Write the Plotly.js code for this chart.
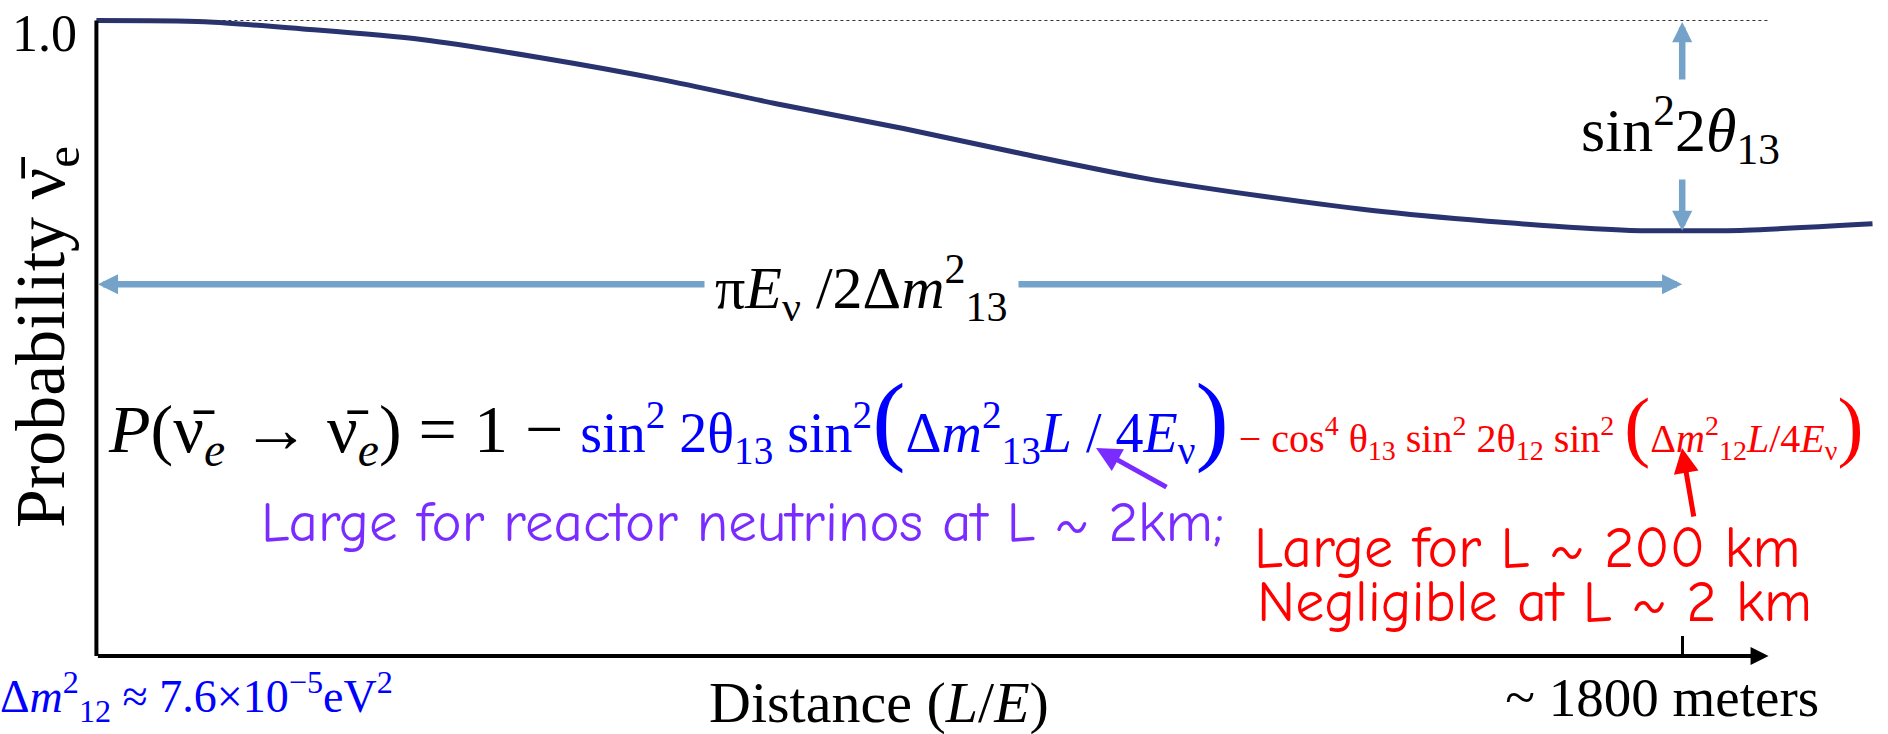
<!DOCTYPE html>
<html>
<head>
<meta charset="utf-8">
<script src="https://cdn.plot.ly/plotly-3.0.1.min.js"></script>
<style>html,body{margin:0;padding:0;background:#fff;}#chart{width:1888px;height:734px;}</style>
</head>
<body>
<div id="chart"></div>
<script>
// ---- data ----
const distanceMeters = [0, 123, 232, 369, 506, 642, 779, 916, 1052, 1189, 1326, 1462, 1599, 1736, 1800, 1872, 2016];
const survivalProb   = [1.000, 0.998, 0.987, 0.970, 0.941, 0.907, 0.867, 0.830, 0.790, 0.752, 0.723, 0.699, 0.682, 0.670, 0.669, 0.670, 0.680];
const xTickVals = [1800];
const xTickText = ['~\u00a01800 meters'];
const yTickVals = [1];
const yTickText = ['1.0'];
const xAxisEnd = 1898;

// ---- styles ----
const SERIF = 'Liberation Serif, Times New Roman, serif';
const COMIC = 'Comic Sans MS, Comic Neue, Noto Sans, sans-serif';
const NAVY = '#29336f';
const STEEL = '#74a2c9';
const BLUE = '#0000ff';
const RED = '#ff0000';
const PURPLE = '#7a2bff';

const W = 1888, H = 734;
const M = {l: 88, r: 0, t: 8, b: 78};
const PW = W - M.l - M.r, PH = H - M.t - M.b;
const px = x => (x - M.l) / PW;
const py = y => (H - M.b - y) / PH;

let iMin = 0;
survivalProb.forEach((v, i) => { if (v < survivalProb[iMin]) iMin = i; });
const xMin = distanceMeters[iMin], pMin = survivalProb[iMin];
const pHoriz = 0.585;

const trace = {
  x: distanceMeters, y: survivalProb, type: 'scatter', mode: 'lines',
  line: {color: NAVY, width: 5, shape: 'spline', smoothing: 0.8},
  hoverinfo: 'skip', showlegend: false
};

const annotations = [
  // x axis arrow
  {x: xAxisEnd, y: 0, ax: 0, ay: 0, axref: 'x', ayref: 'y', xref: 'x', yref: 'y', text: '',
   showarrow: true, arrowhead: 2, arrowsize: 0.9, arrowwidth: 4, arrowcolor: '#000'},
  // horizontal double arrow
  {x: xMin, y: pHoriz, ax: 0, ay: pHoriz, axref: 'x', ayref: 'y', xref: 'x', yref: 'y', text: '',
   showarrow: true, arrowhead: 2, startarrowhead: 2, arrowside: 'end+start', arrowsize: 0.62, startarrowsize: 0.62,
   arrowwidth: 6.5, arrowcolor: STEEL},
  // vertical double arrow
  {x: xMin, y: pMin, ax: xMin, ay: 1, axref: 'x', ayref: 'y', xref: 'x', yref: 'y', text: '',
   showarrow: true, arrowhead: 2, startarrowhead: 2, arrowside: 'end+start', arrowsize: 0.62, startarrowsize: 0.62,
   arrowwidth: 6.5, arrowcolor: STEEL},
  // labels on arrows
  {xref: 'paper', yref: 'paper', x: px(861), y: py(288), xanchor: 'center', yanchor: 'middle', showarrow: false,
   text: 'π<i>E</i><sub>ν</sub> /2Δ<i>m</i><sup>2</sup><sub>13</sub>', bgcolor: '#fff', borderpad: 10,
   font: {family: SERIF, size: 60, color: '#000'}},
  {xref: 'paper', yref: 'paper', x: px(1680), y: py(129), xanchor: 'center', yanchor: 'middle', showarrow: false,
   text: 'sin<sup>2</sup>2<i>θ</i><sub>13</sub>', bgcolor: '#fff', borderpad: 6,
   font: {family: SERIF, size: 62, color: '#000'}},
  // y tick label
  {xref: 'paper', yref: 'paper', x: px(44), y: py(34), xanchor: 'center', yanchor: 'middle', showarrow: false,
   text: yTickText[0], font: {family: SERIF, size: 52, color: '#000'}},
  // y axis title
  {xref: 'paper', yref: 'paper', x: px(46), y: py(337), xanchor: 'center', yanchor: 'middle', showarrow: false,
   textangle: -90, text: 'Probability ν̄<sub>e</sub>', font: {family: SERIF, size: 70, color: '#000'}},
  // x axis title
  {xref: 'paper', yref: 'paper', x: px(879), y: py(702), xanchor: 'center', yanchor: 'middle', showarrow: false,
   text: 'Distance (<i>L</i>/<i>E</i>)', font: {family: SERIF, size: 58, color: '#000'}},
  // formula
  {xref: 'paper', yref: 'paper', x: px(106), y: py(420), xanchor: 'left', yanchor: 'middle', showarrow: false,
   text: '<i>P</i>(ν̄<sub><i>e</i></sub> → ν̄<sub><i>e</i></sub>) = 1 − ' +
         '<span style="color:' + BLUE + ';font-size:56px">sin<sup>2</sup> 2θ<sub>13</sub> sin<sup>2</sup><span style="font-size:100px">(</span>Δ<i>m</i><sup>2</sup><sub>13</sub><i>L</i> / 4<i>E</i><sub>ν</sub><span style="font-size:100px">)</span></span>' +
         '<span style="color:' + RED + ';font-size:40px"> − cos<sup>4</sup> θ<sub>13</sub> sin<sup>2</sup> 2θ<sub>12</sub> sin<sup>2</sup> <span style="font-size:78px">(</span>Δ<i>m</i><sup>2</sup><sub>12</sub><i>L</i>/4<i>E</i><sub>ν</sub><span style="font-size:78px">)</span></span>',
   font: {family: SERIF, size: 68, color: '#000'}},
  // purple note and arrow
  {xref: 'paper', yref: 'paper', x: px(259), y: py(522), xanchor: 'left', yanchor: 'middle', showarrow: false,
   text: 'Large for reactor neutrinos at L ~ 2km;', font: {family: COMIC, size: 57, color: PURPLE}},
  {xref: 'paper', yref: 'paper', x: px(1096), y: py(448), ax: 72, ay: 40, text: '', showarrow: true,
   arrowhead: 2, arrowsize: 1, arrowwidth: 5, arrowcolor: PURPLE},
  // red notes and arrow
  {xref: 'paper', yref: 'paper', x: px(1252), y: py(548), xanchor: 'left', yanchor: 'middle', showarrow: false,
   text: 'Large for L ~ 200 km', font: {family: COMIC, size: 58, color: RED}},
  {xref: 'paper', yref: 'paper', x: px(1255), y: py(602), xanchor: 'left', yanchor: 'middle', showarrow: false,
   text: 'Negligible at L ~ 2 km', font: {family: COMIC, size: 58, color: RED}},
  {xref: 'paper', yref: 'paper', x: px(1682), y: py(448), ax: 12, ay: 70, text: '', showarrow: true,
   arrowhead: 2, arrowsize: 1, arrowwidth: 5, arrowcolor: RED},
  // bottom-left blue
  {xref: 'paper', yref: 'paper', x: px(-2), y: py(696), xanchor: 'left', yanchor: 'middle', showarrow: false,
   text: 'Δ<i>m</i><sup>2</sup><sub>12</sub> ≈ 7.6×10<sup>−5</sup>eV<sup>2</sup>', font: {family: SERIF, size: 46, color: BLUE}}
];

const shapes = [
  // y axis line
  {type: 'line', xref: 'x', yref: 'y', x0: 0, x1: 0, y0: 0, y1: 1, line: {color: '#000', width: 4}},
  // dotted 1.0 reference
  {type: 'line', xref: 'x', yref: 'y', x0: 0, x1: xAxisEnd, y0: 1, y1: 1, line: {color: '#333', width: 1, dash: 'dot'}}
];

const layout = {
  width: W, height: H, margin: M,
  paper_bgcolor: '#fff', plot_bgcolor: '#fff',
  showlegend: false,
  xaxis: {
    range: [-(96.4 - M.l) / 0.881, -(96.4 - M.l) / 0.881 + PW / 0.881],
    showgrid: false, zeroline: false, showline: false,
    tickvals: xTickVals, ticktext: xTickText, ticks: 'inside', ticklen: 20, tickwidth: 3, tickcolor: '#000',
    tickfont: {family: SERIF, size: 55, color: '#000'}, ticklabelshift: -20, ticklabelstandoff: 4,
    fixedrange: true
  },
  yaxis: {
    range: [0, PH / 635.5],
    showgrid: false, zeroline: false, showline: false,
    tickvals: yTickVals, ticktext: [''], ticks: '',
    fixedrange: true
  },
  annotations: annotations,
  shapes: shapes
};

Plotly.newPlot('chart', [trace], layout, {displayModeBar: false, staticPlot: true});
</script>
</body>
</html>
